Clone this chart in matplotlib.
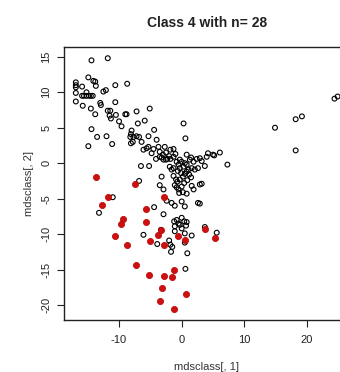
import numpy as np
import matplotlib
matplotlib.use("Agg")
import matplotlib.pyplot as plt

plt.rcParams['font.family'] = ['Liberation Sans', 'DejaVu Sans']
plt.rcParams['axes.unicode_minus'] = False

title = "Class 4 with n= 28"
xlabel = "mdsclass[, 1]"
ylabel = "mdsclass[, 2]"
xticks = [-10, 0, 10, 20]
yticks = [-20, -15, -10, -5, 0, 5, 10, 15]

# all objects (open circles)
other_x = [
    -14.4, -11.8, -14.9, -14.1, -13.8, -13.7, -12.5, -12.1, -10.6, -8.7,
    -16.9, -16.9, -16.9, -16.9, -15.9, -15.2, -15.9, -15.6, -15.2, -14.8,
    -14.5, -14.2, -16.9, -15.8, -14.5, -13.0, -12.9, -10.6, -13.8, -11.8,
    -11.4, -11.5, -11.3, -10.5, -9.0, -8.8, -10.0, -9.6, -7.2, -5.1,
    -7.0, -5.9, -8.0, -8.1, -14.4, -13.5, -12.0, -14.9, -11.1, -8.2,
    -7.7, -7.2, -6.8, -8.1, -7.8, -6.4, -5.3, -4.4, -4.0, -6.1,
    -5.6, -5.3, -4.8, -3.7, -3.5, 0.3, 0.6, -1.3, -4.5, -3.0,
    -2.5, -2.0, -1.0, 0.8, 1.5, -2.7, -1.8,
    -4.1, -3.5, -3.2, -2.9, -2.5, -2.3, -1.8, -1.3, -0.8, -0.3,
    0.0, -6.5, -5.2, -1.9, -1.6, -1.3, -0.5, -0.3, 0.3, 0.5,
    0.8, 1.3, 1.9, 2.4, 2.9, 3.2, 4.0, 4.2, 5.0, 6.1,
    7.3, 1.1, 1.6, 2.1, 2.6, 3.7, 5.2,
    -1.3, -0.9, -0.7, -0.3, 0.2, 0.5, 0.8, -1.1, -0.8, -0.5,
    -0.4, 0.0, 0.4, 1.2, 1.5, 0.9, -0.1, -0.6,
    -2.9, -3.5, -6.8, -3.2, -2.4, -1.6, -1.1, 0.0, 0.5, 0.2,
    0.8, 1.6, 1.9, 2.9, 2.6, -4.4, -2.9, -1.2, -0.8, 0.0,
    0.4, -11.0, -13.2, -3.3, -6.1, -1.1, -0.5, -0.3, 0.0, 0.8,
    0.7, -1.1, 0.5, 0.5, 1.6, -3.9, -2.0, -1.8, -1.5, -1.7,
    0.9, 0.6, 3.7, 5.6, 3.2, 2.9,
    24.4, 24.9, 18.2, 19.2, 14.9, 18.2,
]
other_y = [
    14.5, 14.8, 12.1, 11.6, 11.5, 10.9, 10.1, 10.3, 11.0, 11.2,
    11.4, 11.0, 10.7, 9.9, 10.8, 10.0, 9.5, 9.5, 9.5, 9.5,
    9.5, 9.5, 8.7, 8.1, 7.7, 8.5, 8.2, 8.6, 6.9, 7.4,
    7.4, 6.7, 6.3, 6.8, 6.9, 6.9, 5.9, 5.2, 7.3, 7.7,
    5.6, 6.0, 4.6, 4.1, 4.8, 3.7, 3.8, 2.4, 2.7, 3.7,
    3.7, 3.8, 3.7, 2.8, 3.0, 3.0, 3.8, 4.7, 3.3, 1.9,
    2.1, 2.3, 1.4, 2.3, 1.6, 5.6, 3.5, 2.0, 2.0, 1.2,
    1.5, 1.0, 1.3, 1.2, 0.8, 2.3, 1.9,
    0.6, 0.9, 0.8, 0.5, 0.5, 0.6, 0.6, 0.9, 0.2, 0.5,
    0.2, -0.4, -0.4, -0.5, -0.9, -0.7, -0.2, -0.7, -0.5, 0.0,
    -0.2, 0.5, 0.2, 0.6, 0.7, 0.3, 0.9, 1.4, 1.2, 1.5,
    -0.2, -0.9, -0.7, -0.9, -0.7, -0.4, 1.1,
    -1.8, -2.3, -2.6, -2.3, -1.9, -1.5, -1.2, -3.1, -3.4, -3.7,
    -4.2, -3.3, -2.8, -1.6, -2.0, -2.4, -1.4, -1.1,
    -3.7, -3.1, -2.5, -1.9, -5.3, -5.6, -6.0, -5.4, -6.1, -4.1,
    -4.3, -3.2, -3.7, -3.0, -5.6, -6.2, -7.2, -8.2, -8.0, -7.7,
    -8.2, -4.8, -7.0, -9.4, -10.1, -8.9, -8.5, -8.7, -9.2, -8.3,
    -8.8, -9.6, -9.9, -11.2, -10.2, -11.4, -10.9, -11.5, -11.8, -12.5,
    -12.7, -14.9, -9.0, -9.8, -2.9, -5.7,
    9.1, 9.4, 6.2, 6.6, 5.0, 1.8,
]

# class 4 members (red)
class4_x = [
    -13.6, -7.4, -11.7, -12.7, -2.9, -5.7, -9.3, -9.7, -5.7, -10.7,
    -8.8, -3.7, -5.1, -2.8, -0.6, 0.6, 3.8, 5.3, -7.3, -5.2,
    -2.8, -1.3, -1.5, -3.1, 0.7, -3.5, -1.2, -3.3,
]
class4_y = [
    -1.9, -2.9, -4.8, -5.9, -4.7, -6.4, -7.9, -8.6, -8.3, -10.2,
    -11.5, -10.1, -11.0, -11.6, -10.3, -10.9, -9.3, -10.6, -14.4, -15.7,
    -15.9, -15.1, -16.0, -17.6, -18.5, -19.5, -20.6, -9.4,
]

fig = plt.figure(figsize=(3.4, 3.72), dpi=100)
ax = fig.add_axes([0.188, 0.140, 0.840, 0.734])

ax.scatter(other_x, other_y, s=12, facecolors='none', edgecolors='black', linewidths=0.8)
ax.scatter(class4_x, class4_y, s=20, color='#cc1010', edgecolors='#bb0000', linewidths=0.5)

ax.set_xlim(-18.8, 26.8)
ax.set_ylim(-22.1, 16.4)
ax.set_xticks(xticks)
ax.set_yticks(yticks)
ax.tick_params(direction='out', length=5, width=0.8, colors='#222222', labelsize=8, pad=6)
ax.tick_params(axis='y', pad=4)
for lab in ax.get_yticklabels():
    lab.set_rotation(90)
    lab.set_va('center')
for sp in ax.spines.values():
    sp.set_linewidth(1.0)
    sp.set_color('#222222')

ax.set_title(title, fontsize=10, fontweight='bold', pad=14, color='#222222')
ax.set_xlabel(xlabel, fontsize=8, labelpad=12, color='#333333')
ax.set_ylabel(ylabel, fontsize=8, labelpad=5, color='#333333')

fig.savefig("out.png", dpi=100)
